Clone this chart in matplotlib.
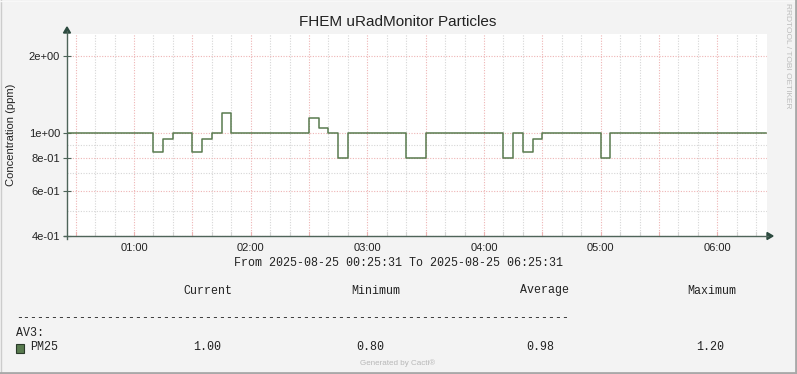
import matplotlib
matplotlib.use("Agg")
import matplotlib.pyplot as plt
from matplotlib.lines import Line2D
from matplotlib.patches import Rectangle, Polygon

# ---------------- data ----------------
title = "FHEM uRadMonitor Particles"
y_label = "Concentration (ppm)"
change_times = ["00:25:31", "01:10", "01:15", "01:20", "01:30", "01:35", "01:40",
                "01:45", "01:50", "02:30", "02:35", "02:40", "02:45", "02:50",
                "03:20", "03:30", "04:10", "04:15", "04:20", "04:25", "04:30",
                "05:00", "05:05"]
pm25_values = [1.0, 0.85, 0.95, 1.0, 0.85, 0.95, 1.0,
               1.2, 1.0, 1.15, 1.05, 1.0, 0.8, 1.0,
               0.8, 1.0, 0.8, 1.0, 0.85, 0.95, 1.0,
               0.8, 1.0]
line_end_time = "06:25"
x_start, x_end = "00:25:31", "06:25:31"
x_tick_labels = ["01:00", "02:00", "03:00", "04:00", "05:00", "06:00"]
y_major = [0.4, 0.6, 0.8, 1.0, 2.0]
y_major_labels = ["4e-01", "6e-01", "8e-01", "1e+00", "2e+00"]
y_minor = [0.5, 0.7, 0.9]
y_top = 2.43
legend_headers = ["Current", "Minimum", "Average", "Maximum"]
legend_stats = ["1.00", "0.80", "0.98", "1.20"]
series_group = "AV3:"
series_name = "PM25"
period_text = "From 2025-08-25 00:25:31 To 2025-08-25 06:25:31"


def hours(s):
    parts = [float(p) for p in s.split(":")]
    while len(parts) < 3:
        parts.append(0.0)
    return parts[0] + parts[1] / 60 + parts[2] / 3600


# ---------------- figure ----------------
W, H = 797, 374
BG = "#f3f3f3"
LINE_C = "#587a4e"
AXIS_C = "#4e6459"
ARROW_C = "#2c4a3f"
RED_GRID = "#eeb4b4"
GREY_GRID = "#d6d6d6"
SANS = ["Liberation Sans", "DejaVu Sans"]
MONO = ["Liberation Mono", "DejaVu Sans Mono"]

fig = plt.figure(figsize=(W / 100, H / 100), dpi=100, facecolor=BG)


def fx(x):
    return x / W


def fy(y):
    return 1 - y / H


L, R, T, B = 67, 767, 34, 236
ax = fig.add_axes([fx(L), fy(B), fx(R) - fx(L), fy(T) - fy(B)])
ax.set_facecolor("white")
ax.set_yscale("log")
xs, xe = hours(x_start), hours(x_end)
ax.set_xlim(xs, xe)
ax.set_ylim(y_major[0], y_top)

# grid
dot = (0, (1, 1.4))
t = 0.5
while t < xe:
    if t > xs:
        is_major = abs(t * 2 - round(t * 2)) < 1e-6
        ax.axvline(t, color=RED_GRID if is_major else GREY_GRID, lw=0.8,
                   linestyle=dot, zorder=1)
    t += 1 / 6
for v in y_minor:
    ax.axhline(v, color=GREY_GRID, lw=0.8, linestyle=dot, zorder=1)
for v in y_major:
    ax.axhline(v, color=RED_GRID, lw=0.8, linestyle=dot, zorder=1)

# data line
tx = [hours(s) for s in change_times] + [hours(line_end_time)]
vy = pm25_values + [pm25_values[-1]]
ax.step(tx, vy, where="post", color=LINE_C, lw=1.1, zorder=3)

# axes styling
for s in ["top", "right", "bottom", "left"]:
    ax.spines[s].set_visible(False)
ax.set_yticks(y_major)
ax.set_yticklabels(y_major_labels, fontfamily=SANS, fontsize=8, color="#222222")
ax.yaxis.set_minor_locator(matplotlib.ticker.NullLocator())
ax.tick_params(axis="y", which="major", direction="inout", length=6,
               width=0.8, color=AXIS_C, pad=2)
ax.set_xticks([1, 2, 3, 4, 5, 6])
ax.set_xticklabels(x_tick_labels, fontfamily=SANS, fontsize=8, color="#222222")
ax.tick_params(axis="x", which="major", length=0, pad=5)

# x-axis small ticks on the axis line
t = 0.5
while t < xe:
    if t > xs:
        is_major = abs(t * 2 - round(t * 2)) < 1e-6
        ax.plot([t, t], [0, 0.018], transform=ax.get_xaxis_transform(),
                color=RED_GRID if is_major else GREY_GRID, lw=0.8,
                clip_on=False, zorder=4)
    t += 1 / 6

# axis lines with arrows (figure coordinates)
fig.add_artist(Line2D([fx(L), fx(L)], [fy(B + 3), fy(31)], color=AXIS_C, lw=1.0))
fig.add_artist(Line2D([fx(L - 3), fx(768)], [fy(B), fy(B)], color=AXIS_C, lw=1.0))
fig.add_artist(Polygon([[fx(L - 3.5), fy(33)], [fx(L + 3.5), fy(33)], [fx(L), fy(27)]],
                       closed=True, color=ARROW_C, transform=fig.transFigure))
fig.add_artist(Polygon([[fx(767), fy(B - 3.5)], [fx(767), fy(B + 3.5)], [fx(773), fy(B)]],
                       closed=True, color=ARROW_C, transform=fig.transFigure))

# titles
fig.text(fx(398), fy(22), title, ha="center", va="center",
         fontfamily=SANS, fontsize=11, color="#222222")
fig.text(fx(11), fy(135), y_label, ha="center", va="center", rotation=90,
         fontfamily=SANS, fontsize=8, color="#222222")
fig.text(fx(788), fy(56), "RRDTOOL / TOBI OETIKER", ha="center", va="center",
         rotation=-90, fontfamily=SANS, fontsize=6, color="#bdbdbd")

# legend / text block
MS = 8.4
fig.text(fx(234), fy(262.5), period_text, ha="left", va="center",
         fontfamily=MONO, fontsize=MS, color="#222222")
header_centers = [208, 376, 544, 712]
for h, cx in zip(legend_headers, header_centers):
    fig.text(fx(cx), fy(290.5), h, ha="center", va="center",
             fontfamily=MONO, fontsize=MS, color="#222222")
fig.text(fx(16), fy(318), "-" * 79, ha="left", va="center",
         fontfamily=MONO, fontsize=MS, color="#222222")
fig.text(fx(16), fy(332.5), series_group, ha="left", va="center",
         fontfamily=MONO, fontsize=MS, color="#222222")
fig.add_artist(Rectangle((fx(15.5), fy(352.5)), fx(8), fy(344) - fy(352.5),
                         facecolor=LINE_C, edgecolor="#2a3a2a", lw=0.8,
                         transform=fig.transFigure))
fig.text(fx(30), fy(347), series_name, ha="left", va="center",
         fontfamily=MONO, fontsize=MS, color="#222222")
stat_centers = [207, 370, 540, 710]
for s, cx in zip(legend_stats, stat_centers):
    fig.text(fx(cx), fy(347), s, ha="center", va="center",
             fontfamily=MONO, fontsize=MS, color="#222222")
fig.text(fx(398), fy(363.5), "Generated by Cacti\u00ae", ha="center", va="center",
         fontfamily=SANS, fontsize=5.8, color="#b8b8b8")

# border
fig.add_artist(Line2D([0.5 / W, 0.5 / W], [0, 1], color="#cccccc", lw=1.0))
fig.add_artist(Line2D([0, 1], [1 - 0.5 / H, 1 - 0.5 / H], color="#f8f8f8", lw=1.0))
fig.add_artist(Line2D([1 - 1.5 / W, 1 - 1.5 / W], [0, 1], color="#a8a8a8", lw=2.0))
fig.add_artist(Line2D([0, 1], [1.5 / H, 1.5 / H], color="#a8a8a8", lw=2.0))

fig.savefig("out.png", dpi=100, facecolor=BG)
